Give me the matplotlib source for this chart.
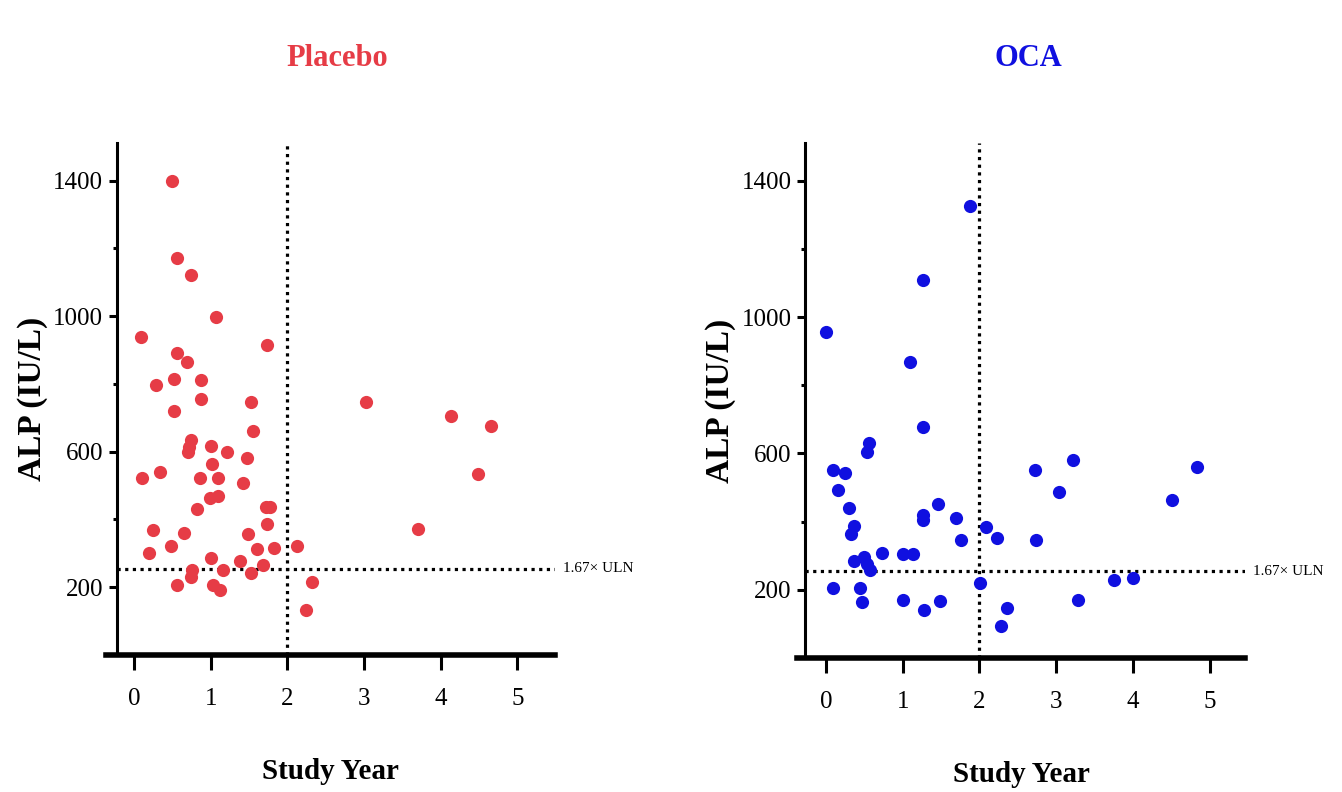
import matplotlib
matplotlib.use("Agg")
import matplotlib.pyplot as plt
from matplotlib.ticker import FixedLocator

plt.rcParams['font.family'] = ['Liberation Serif', 'DejaVu Serif']

# Placebo group: study year vs ALP (IU/L)
placebo_year = [0.50, 0.56, 0.74, 1.07, 0.09, 1.73, 0.56, 0.69, 0.29, 0.52,
                0.88, 0.88, 1.53, 0.52, 1.55, 0.74, 0.72, 0.70, 1.00, 1.21,
                1.47, 1.02, 0.11, 0.34, 0.86, 1.09, 1.42, 0.99, 1.09, 0.82,
                1.72, 1.77, 1.74, 0.25, 0.65, 1.49, 0.48, 1.60, 1.82, 2.13,
                0.20, 1.00, 1.38, 1.68, 1.16, 0.75, 0.74, 1.53, 0.56, 1.03,
                1.12, 2.32, 2.24, 3.03, 4.14, 4.66, 4.48, 3.70]
placebo_alp = [1400, 1172, 1120, 998, 938, 915, 892, 865, 797, 814,
               812, 755, 747, 721, 661, 635, 615, 600, 617, 598,
               581, 563, 521, 539, 521, 521, 509, 462, 468, 432,
               437, 437, 387, 368, 360, 358, 322, 312, 317, 322,
               300, 285, 277, 267, 250, 250, 230, 242, 206, 206,
               193, 216, 132, 747, 704, 677, 534, 371]

# OCA group
oca_year = [1.88, 1.26, 0.00, 1.10, 1.26, 0.56, 0.53, 0.09, 0.25, 0.16,
            0.30, 0.36, 0.32, 1.46, 1.26, 1.26, 1.70, 1.76, 2.09, 2.23,
            2.72, 2.74, 0.73, 1.00, 1.13, 0.36, 0.50, 0.54, 0.57, 0.09,
            0.44, 0.47, 1.00, 1.28, 1.49, 2.01, 2.36, 2.28, 3.22, 3.04,
            3.29, 3.75, 4.00, 4.51, 4.84]
oca_alp = [1327, 1108, 956, 868, 678, 632, 603, 551, 544, 493,
           441, 388, 363, 453, 420, 405, 410, 346, 385, 352,
           551, 346, 309, 306, 306, 285, 297, 276, 258, 206,
           206, 164, 170, 142, 168, 220, 146, 94, 580, 488,
           170, 228, 236, 463, 559]

uln_cut = 255      # 1.67x ULN
year_cut = 2
x_ticks = [0, 1, 2, 3, 4, 5]
y_major = [200, 600, 1000, 1400]
y_minor = [400, 800, 1200]

fig = plt.figure(figsize=(13.42, 7.92), dpi=100)

panels = [
    ("Placebo", "#e63c46", placebo_year, placebo_alp,
     [106/1342, 1-655/792, 449/1342, 512/792], (-0.365, 5.49), -0.22, 337),
    ("OCA", "#1010e0", oca_year, oca_alp,
     [797/1342, 1-658/792, 448/1342, 515/792], (-0.378, 5.46), -0.27, 1028),
]

for title, color, xs, ys, rect, xlim, spine_x, title_x in panels:
    ax = fig.add_axes(rect)
    ax.set_xlim(*xlim)
    ax.set_ylim(0, 1511)

    ax.plot(xs, ys, 'o', color=color, ms=9.5, mec='none', zorder=3)

    # threshold lines
    ax.plot([spine_x, xlim[1]], [uln_cut, uln_cut], color='black', lw=2.3,
            ls=(0, (1, 1.4)), zorder=2)
    ax.plot([year_cut, year_cut], [0, 1511], color='black', lw=2.3,
            ls=(0, (1, 1.4)), zorder=2)
    ax.annotate("1.67× ULN", xy=(1.0, uln_cut), xycoords=('axes fraction', 'data'),
                xytext=(6, 0), textcoords='offset points', va='center',
                ha='left', fontsize=11, annotation_clip=False)

    for s in ['top', 'right']:
        ax.spines[s].set_visible(False)
    ax.spines['left'].set_position(('data', spine_x))
    ax.spines['left'].set_linewidth(2.2)
    ax.spines['bottom'].set_linewidth(4)

    ax.xaxis.set_major_locator(FixedLocator(x_ticks))
    ax.yaxis.set_major_locator(FixedLocator(y_major))
    ax.yaxis.set_minor_locator(FixedLocator(y_minor))
    ax.tick_params(axis='x', which='major', direction='out', length=11,
                   width=2.2, labelsize=18, pad=13)
    ax.tick_params(axis='y', which='major', direction='out', length=6,
                   width=2.2, labelsize=18, pad=4)
    ax.tick_params(axis='y', which='minor', direction='out', length=3, width=2.2)

    ax.set_xlabel("Study Year", fontsize=21, fontweight='bold', labelpad=34)
    ax.set_ylabel("ALP (IU/L)", fontsize=24, fontweight='bold', labelpad=4)

    fig.text(title_x/1342, 1-58/792, title, color=color, fontsize=22,
             fontweight='bold', ha='center', va='center')

fig.savefig("out.png", dpi=100)
